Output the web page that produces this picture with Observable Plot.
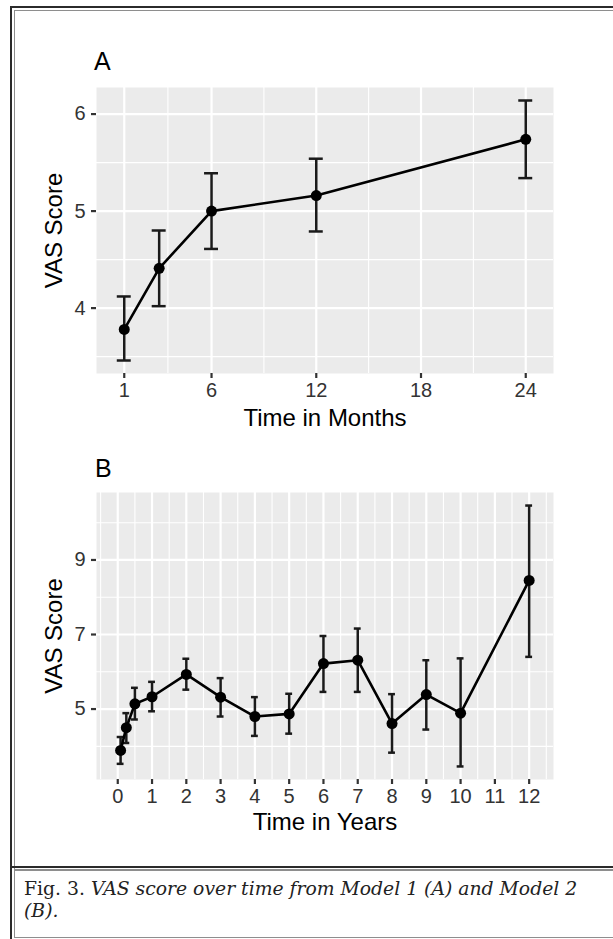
<!DOCTYPE html>
<html>
<head>
<meta charset="utf-8">
<script src="https://cdn.jsdelivr.net/npm/d3@7"></script>
<script src="https://cdn.jsdelivr.net/npm/@observablehq/plot@0.6"></script>
<style>
  html, body { margin: 0; padding: 0; background: #fff; }
  body { width: 613px; height: 939px; position: relative; overflow: hidden; }
  .abs { position: absolute; }
  .frameOuter { left: 10px; top: 6px; width: 700px; height: 1000px; border-left: 2.5px solid #2b2b2b; border-top: 2.5px solid #2b2b2b; }
  .frameInner { left: 14px; top: 10px; width: 700px; height: 926px; border-left: 1.5px solid #8e8e8e; border-top: 1.5px solid #8e8e8e; border-bottom: 1.5px solid #8e8e8e; }
  .sepDark { left: 12px; top: 866px; width: 700px; height: 2px; background: #2b2b2b; }
  .sepGrey { left: 14px; top: 869px; width: 700px; height: 1.5px; background: #8e8e8e; }
  .panelLabel { font-family: "Liberation Sans", Arial, sans-serif; font-size: 25px; line-height: 25px; color: #000; }
  .caption { left: 24px; top: 878px; font-family: "DejaVu Serif", serif; font-size: 18.8px; line-height: 22px; color: #222; white-space: nowrap; }
  .caption i { font-style: italic; }
  #chartA svg text, #chartB svg text { font-family: "Liberation Sans", Arial, sans-serif; }
  #chartA svg [aria-label$="tick label"], #chartB svg [aria-label$="tick label"],
  #chartA svg [aria-label$="tick label"] text, #chartB svg [aria-label$="tick label"] text { font-size: 20px !important; }
</style>
</head>
<body>
<div class="abs frameOuter"></div>
<div class="abs frameInner"></div>
<div class="abs sepDark"></div>
<div class="abs sepGrey"></div>
<div id="chartA" class="abs" style="left:0;top:0;"></div>
<div id="chartB" class="abs" style="left:0;top:440px;"></div>
<div class="abs panelLabel" style="left:94px;top:49px;">A</div>
<div class="abs panelLabel" style="left:95px;top:456px;">B</div>
<div class="abs caption">Fig. 3. <i>VAS score over time from Model 1 (A) and Model 2</i><br><i>(B).</i></div>
<script>
// ---- Panel A data (Model 1) ----
const monthsA = [1, 3, 6, 12, 24];
const vasA    = [3.78, 4.41, 5.00, 5.16, 5.74];
const lowerA  = [3.46, 4.02, 4.61, 4.79, 5.34];
const upperA  = [4.12, 4.80, 5.39, 5.54, 6.14];
const xTicksA = [1, 6, 12, 18, 24];
const xMinorA = [3.5, 9, 15, 21];
const yTicksA = [4, 5, 6];
const yMinorA = [3.5, 4.5, 5.5];
const capA = 0.8;

// ---- Panel B data (Model 2) ----
const yearsB  = [0.083, 0.25, 0.5, 1, 2, 3, 4, 5, 6, 7, 8, 9, 10, 12];
const vasB    = [3.89, 4.50, 5.14, 5.33, 5.93, 5.32, 4.80, 4.87, 6.22, 6.31, 4.61, 5.39, 4.89, 8.45];
const lowerB  = [3.53, 4.09, 4.72, 4.94, 5.52, 4.80, 4.28, 4.34, 5.46, 5.46, 3.83, 4.45, 3.46, 6.40];
const upperB  = [4.25, 4.89, 5.57, 5.73, 6.35, 5.83, 5.32, 5.41, 6.96, 7.16, 5.40, 6.31, 6.36, 10.46];
const xTicksB = [0, 1, 2, 3, 4, 5, 6, 7, 8, 9, 10, 11, 12];
const xMinorB = [-0.5, 0.5, 1.5, 2.5, 3.5, 4.5, 5.5, 6.5, 7.5, 8.5, 9.5, 10.5, 11.5, 12.5];
const yTicksB = [5, 7, 9];
const yMinorB = [4, 6, 8, 10];
const capB = 0.2;

const rowsA = monthsA.map((t, i) => ({t, v: vasA[i], lo: lowerA[i], hi: upperA[i]}));
const rowsB = yearsB.map((t, i) => ({t, v: vasB[i], lo: lowerB[i], hi: upperB[i]}));

function panel({rows, cap, xTicks, xMinor, yTicks, yMinor, xDomain, yDomain, height, mt, mb, xTitle, xTitleDy}) {
  const font = "'Liberation Sans', Arial, sans-serif";
  return Plot.plot({
    width: 613,
    height,
    marginLeft: 96,
    marginRight: 60,
    marginTop: mt,
    marginBottom: mb,
    style: {fontFamily: font, fontSize: "20px", background: "transparent", overflow: "visible"},
    x: {domain: xDomain},
    y: {domain: yDomain},
    marks: [
      Plot.frame({fill: "#ebebeb", stroke: null}),
      Plot.gridY(yMinor, {stroke: "#ffffff", strokeOpacity: 1, strokeWidth: 1.1}),
      Plot.gridX(xMinor, {stroke: "#ffffff", strokeOpacity: 1, strokeWidth: 1.1}),
      Plot.gridY(yTicks, {stroke: "#ffffff", strokeOpacity: 1, strokeWidth: 2.2}),
      Plot.gridX(xTicks, {stroke: "#ffffff", strokeOpacity: 1, strokeWidth: 2.2}),
      Plot.axisX({ticks: xTicks, tickSize: 5, tickPadding: 4, fontSize: 20, color: "#333", strokeWidth: 2.2, label: null, tickFormat: d => String(d)}),
      Plot.axisY({ticks: yTicks, tickSize: 5, tickPadding: 6, fontSize: 20, color: "#333", strokeWidth: 2.2, label: null, tickFormat: d => String(d)}),
      Plot.ruleX(rows, {x: "t", y1: "lo", y2: "hi", stroke: "#1a1a1a", strokeWidth: 2.5}),
      Plot.ruleY(rows, {y: "hi", x1: d => d.t - cap / 2, x2: d => d.t + cap / 2, stroke: "#1a1a1a", strokeWidth: 2.5}),
      Plot.ruleY(rows, {y: "lo", x1: d => d.t - cap / 2, x2: d => d.t + cap / 2, stroke: "#1a1a1a", strokeWidth: 2.5}),
      Plot.line(rows, {x: "t", y: "v", stroke: "#000", strokeWidth: 2.6}),
      Plot.dot(rows, {x: "t", y: "v", r: 5.5, fill: "#000", stroke: null}),
      Plot.text([xTitle], {text: d => d, frameAnchor: "bottom", lineAnchor: "middle", textAnchor: "middle", dy: xTitleDy, fontSize: 24, fill: "#000"}),
      Plot.text(["VAS Score"], {text: d => d, frameAnchor: "left", lineAnchor: "middle", textAnchor: "middle", rotate: -90, dx: -42, fontSize: 24, fill: "#000"})
    ]
  });
}

document.getElementById("chartA").appendChild(panel({
  rows: rowsA, cap: capA, xTicks: xTicksA, xMinor: xMinorA, yTicks: yTicksA, yMinor: yMinorA,
  xDomain: [-0.59, 25.59], yDomain: [3.326, 6.274],
  height: 440, mt: 87, mb: 67, xTitle: "Time in Months", xTitleDy: 45
}));

document.getElementById("chartB").appendChild(panel({
  rows: rowsB, cap: capB, xTicks: xTicksB, xMinor: xMinorB, yTicks: yTicksB, yMinor: yMinorB,
  xDomain: [-0.62, 12.71], yDomain: [3.11, 10.81],
  height: 405, mt: 52, mb: 66, xTitle: "Time in Years", xTitleDy: 43
}));
</script>
</body>
</html>
